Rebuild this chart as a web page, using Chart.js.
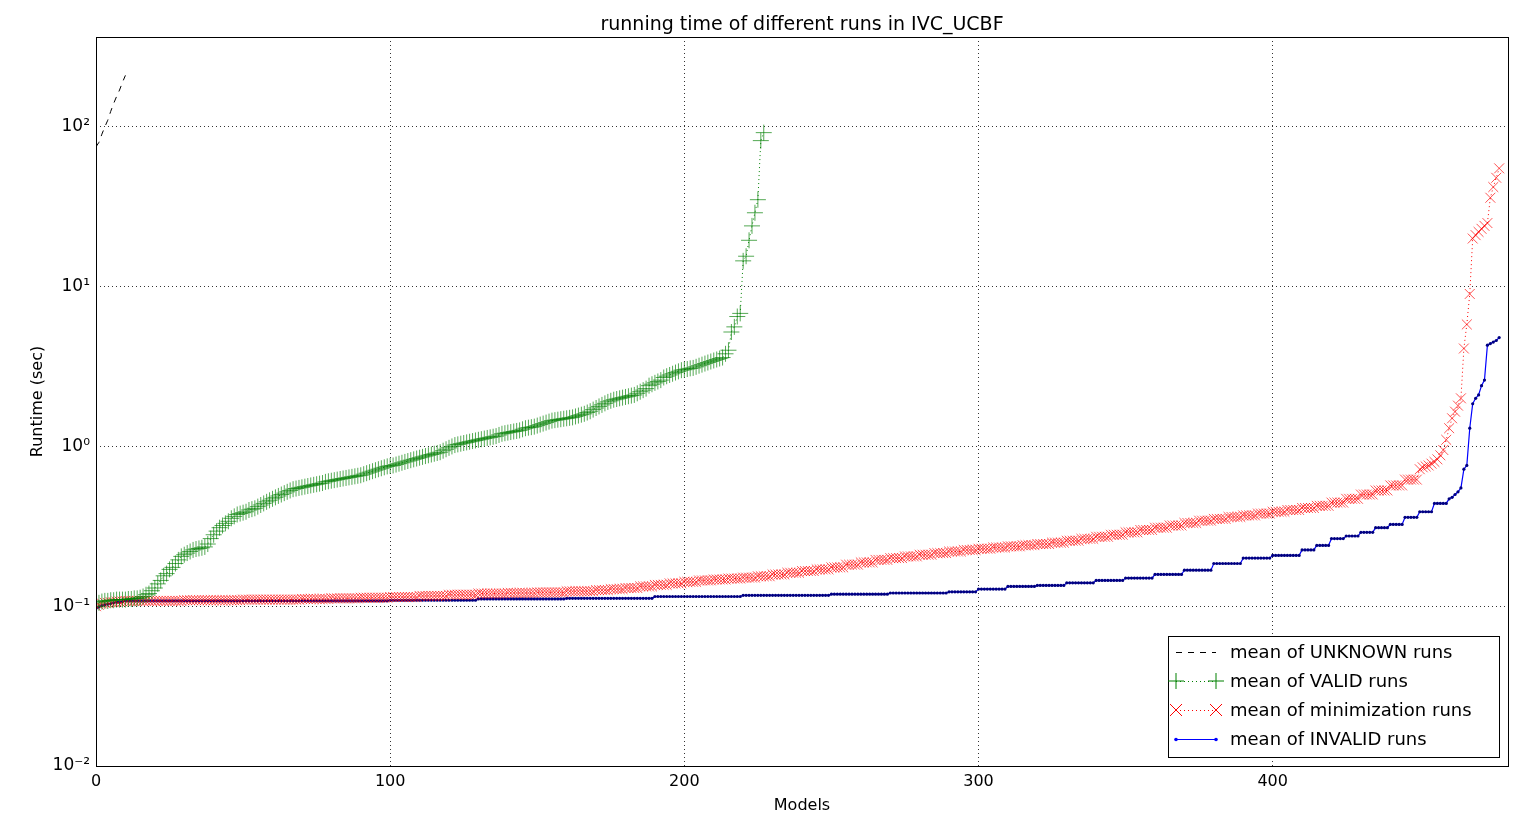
<!DOCTYPE html>
<html><head><meta charset="utf-8">
<script src="https://cdn.jsdelivr.net/npm/chart.js@4"></script>
<style>html,body{margin:0;padding:0;background:#fff}#c{display:block}</style>
</head><body>
<div style="width:1522px;height:828px"><canvas id="c" width="1522" height="828"></canvas></div>
<script>
const chartTitle = "running time of different runs in IVC_UCBF";
const xTitle = "Models";
const yTitle = "Runtime (sec)";
const xTicks = [0,100,200,300,400];
const yTicks = [0.01,0.1,1,10,100];
const yTickLabels = ["10\u207B\u00B2","10\u207B\u00B9","10\u2070","10\u00B9","10\u00B2"];
const seriesNames = ["mean of UNKNOWN runs","mean of VALID runs","mean of minimization runs","mean of INVALID runs"];

const unknownRuns = [75,80,90,100,110,125,140,155,170,190,210];

const validRuns = [
.100,.105,.107,.108,.108,.109,.109,.110,.110,.110,
.110,.111,.111,.112,.112,.113,.115,.118,.120,.125,
.130,.138,.145,.155,.160,.170,.175,.185,.195,.205,
.210,.215,.220,.225,.228,.230,.232,.235,.245,.265,
.280,.295,.310,.320,.330,.340,.355,.365,.375,.380,
.385,.390,.400,.405,.410,.420,.430,.440,.450,.460,
.470,.480,.490,.500,.510,.520,.530,.540,.545,.550,
.555,.560,.565,.570,.575,.580,.585,.590,.600,.605,
.610,.615,.620,.625,.630,.635,.640,.645,.650,.655,
.660,.670,.680,.690,.700,.710,.720,.730,.740,.750,
.755,.760,.770,.780,.790,.800,.810,.820,.830,.840,
.850,.860,.870,.880,.890,.900,.910,.920,.940,.960,
.980,1.00,1.02,1.03,1.04,1.05,1.06,1.07,1.08,1.09,
1.10,1.11,1.12,1.13,1.14,1.15,1.16,1.18,1.20,1.21,
1.22,1.23,1.24,1.25,1.26,1.28,1.30,1.31,1.32,1.33,
1.35,1.37,1.39,1.41,1.43,1.45,1.46,1.47,1.48,1.49,
1.50,1.51,1.52,1.54,1.56,1.58,1.60,1.63,1.66,1.70,
1.74,1.78,1.82,1.86,1.90,1.93,1.96,1.98,2.00,2.02,
2.04,2.06,2.08,2.10,2.15,2.20,2.25,2.30,2.40,2.45,
2.50,2.55,2.60,2.70,2.75,2.80,2.85,2.90,2.95,3.00,
3.02,3.05,3.08,3.10,3.15,3.20,3.25,3.30,3.35,3.40,
3.45,3.50,3.55,3.60,3.80,4.00,5.20,5.60,6.50,6.80,
14.5,15.5,19.5,24.0,29.0,35.0,82.0,92.0];

// minimization runs: [value, repeat count]
const minimizationRuns = [
[.100,1],[.102,1],[.104,1],[.105,2],[.106,2],[.107,3],[.108,20],[.109,20],[.110,20],[.111,10],
[.112,10],[.113,10],[.114,10],[.116,10],[.118,10],[.120,10],[.121,10],[.122,10],[.124,10],[.126,5],[.128,5],
[.130,5],[.133,5],[.136,5],[.139,5],[.142,5],[.145,5],[.147,5],[.149,5],[.151,5],[.154,5],
[.158,5],[.162,5],[.166,5],[.170,5],[.175,5],[.182,5],[.188,5],[.195,5],[.200,5],[.205,5],
[.210,5],[.215,5],[.220,5],[.225,5],[.229,5],[.233,5],[.237,5],[.241,5],[.245,5],[.250,5],
[.257,5],[.264,5],[.272,5],[.280,5],[.290,5],[.300,5],[.310,5],[.320,5],[.332,5],[.343,5],
[.352,5],[.362,5],[.370,5],[.380,5],[.390,5],[.400,5],[.412,5],[.425,5],[.445,5],[.470,5],
[.500,5],[.530,5],[.570,5],[.620,5],
[.72,1],[.74,1],[.75,1],[.76,1],[.78,1],[.80,1],[.83,1],[.88,1],[.95,1],[1.1,1],
[1.3,1],[1.5,1],[1.65,1],[1.8,1],[2.0,1],[4.1,1],[5.8,1],[9.0,1],[20,1],[21,1],
[22,1],[23,1],[24,1],[25,1],[36,1],[42,1],[48,1],[55,1]];

// invalid runs: [value, repeat count]
const invalidRuns = [
[.097,1],[.099,1],[.101,1],[.102,1],[.103,1],[.104,1],[.105,1],[.106,2],[.107,1],
[.108,90],[.109,30],[.111,30],[.112,30],[.115,30],[.117,30],[.119,20],[.121,20],[.123,10],
[.128,10],[.133,10],[.135,10],[.140,10],[.145,10],[.150,10],[.158,10],[.168,10],[.185,10],
[.200,10],[.208,10],[.225,5],[.240,5],[.265,5],[.275,5],[.290,5],[.310,5],[.325,5],[.360,5],
[.390,5],[.440,5],
[.47,1],[.48,1],[.50,1],[.52,1],[.55,1],[.72,1],[.76,1],[1.3,1],[1.85,1],[2.0,1],
[2.1,1],[2.4,1],[2.6,1],[4.3,1],[4.4,1],[4.5,1],[4.6,1],[4.8,1]];

function expand(runs){const out=[];runs.forEach(([v,n])=>{for(let i=0;i<n;i++)out.push(v);});return out;}
function pts(arr){return arr.map((v,i)=>({x:i,y:v}));}

const legendPlugin = {
  id:'mplLegend',
  afterDraw(chart){
    const ctx=chart.ctx, a=chart.chartArea;
    ctx.save();
    ctx.strokeStyle='#000';ctx.lineWidth=1;ctx.setLineDash([]);
    ctx.strokeRect(a.left+0.5,a.top+0.5,a.right-a.left,a.bottom-a.top);
    ctx.fillStyle='#000';ctx.font='19px "DejaVu Sans"';ctx.textAlign='center';ctx.textBaseline='alphabetic';
    ctx.fillText(chartTitle,(a.left+a.right)/2,a.top-7);
    ctx.font='16px "DejaVu Sans"';ctx.textBaseline='middle';
    ctx.fillText(xTitle,(a.left+a.right)/2,806);
    ctx.save();ctx.translate(38,(a.top+a.bottom)/2);ctx.rotate(-Math.PI/2);ctx.fillText(yTitle,0,0);ctx.restore();
    const bx=a.right-340, by=a.bottom-130, bw=331, bh=121;
    ctx.fillStyle='#fff';ctx.fillRect(bx,by,bw,bh);
    ctx.strokeStyle='#000';ctx.strokeRect(bx+0.5,by+0.5,bw,bh);
    const rows=[by+16,by+45,by+74,by+103];
    const lx0=bx+8,lx1=bx+48;
    ctx.font='18px "DejaVu Sans"';ctx.textAlign='left';ctx.textBaseline='middle';
    rows.forEach((ry,i)=>{
      ctx.save();
      ctx.lineWidth=1;
      if(i===0){ctx.strokeStyle='#000';ctx.setLineDash([6,6]);}
      if(i===1){ctx.strokeStyle='#008000';ctx.setLineDash([1,3]);}
      if(i===2){ctx.strokeStyle='#ff0000';ctx.setLineDash([1,3]);}
      if(i===3){ctx.strokeStyle='#0000ff';}
      ctx.beginPath();ctx.moveTo(lx0,ry+0.5);ctx.lineTo(lx1,ry+0.5);ctx.stroke();
      ctx.setLineDash([]);
      [lx0,lx1].forEach(px=>{
        if(i===1){ctx.strokeStyle='#008000';ctx.beginPath();ctx.moveTo(px-8,ry);ctx.lineTo(px+8,ry);ctx.moveTo(px,ry-8);ctx.lineTo(px,ry+8);ctx.stroke();}
        if(i===2){ctx.strokeStyle='#ff0000';ctx.beginPath();ctx.moveTo(px-6,ry-6);ctx.lineTo(px+6,ry+6);ctx.moveTo(px-6,ry+6);ctx.lineTo(px+6,ry-6);ctx.stroke();}
        if(i===3){ctx.fillStyle='#0000ff';ctx.beginPath();ctx.arc(px,ry+0.5,1.8,0,Math.PI*2);ctx.fill();}
      });
      ctx.restore();
      ctx.fillStyle='#000';ctx.fillText(seriesNames[i],bx+62,ry+1);
    });
    ctx.restore();
  }
};

new Chart(document.getElementById('c'),{
  type:'line',
  data:{datasets:[
    {label:seriesNames[0],data:pts(unknownRuns),borderColor:'#000',borderWidth:1,borderDash:[6,6],pointRadius:0,fill:false},
    {label:seriesNames[1],data:pts(validRuns),borderColor:'#008000',borderWidth:1,borderDash:[1,3],pointStyle:'cross',pointRadius:8,pointBorderColor:'rgba(0,128,0,0.85)',pointBorderWidth:0.8,pointBackgroundColor:'#008000',fill:false},
    {label:seriesNames[2],data:pts(expand(minimizationRuns)),borderColor:'#ff0000',borderWidth:1,borderDash:[1,3],pointStyle:'crossRot',pointRadius:7,pointBorderColor:'rgba(255,0,0,0.85)',pointBorderWidth:0.8,pointBackgroundColor:'#ff0000',fill:false},
    {label:seriesNames[3],data:pts(expand(invalidRuns)),borderColor:'#0000ff',borderWidth:1.2,pointStyle:'circle',pointRadius:1.6,pointBorderWidth:0,pointBackgroundColor:'#000080',fill:false}
  ]},
  options:{
    responsive:false,animation:false,
    layout:{padding:{left:0,top:37,right:14,bottom:0}},
    plugins:{legend:{display:false},tooltip:{enabled:false}},
    elements:{line:{tension:0}},
    scales:{
      x:{type:'linear',min:0,max:480,
        afterBuildTicks:s=>{s.ticks=xTicks.map(v=>({value:v}));},
        afterFit:s=>{s.height=62;},
        ticks:{color:'#000',font:{size:16,family:'DejaVu Sans'},padding:6,maxRotation:0,callback:v=>String(v)},
        grid:{color:'#000',lineWidth:0.8,drawTicks:false},
        border:{display:false,dash:[1,3]},
        title:{display:false}
      },
      y:{type:'logarithmic',min:0.01,max:365,
        afterBuildTicks:s=>{s.ticks=yTicks.map(v=>({value:v}));},
        afterFit:s=>{s.width=96;},
        ticks:{color:'#000',font:{size:17,family:'DejaVu Sans'},padding:6,callback:(v)=>{const i=yTicks.findIndex(t=>Math.abs(t-v)/t<1e-6);return i>=0?yTickLabels[i]:'';}},
        grid:{color:'#000',lineWidth:0.8,drawTicks:false},
        border:{display:false,dash:[1,3]},
        title:{display:false}
      }
    }
  },
  plugins:[legendPlugin]
});
</script>
</body></html>
